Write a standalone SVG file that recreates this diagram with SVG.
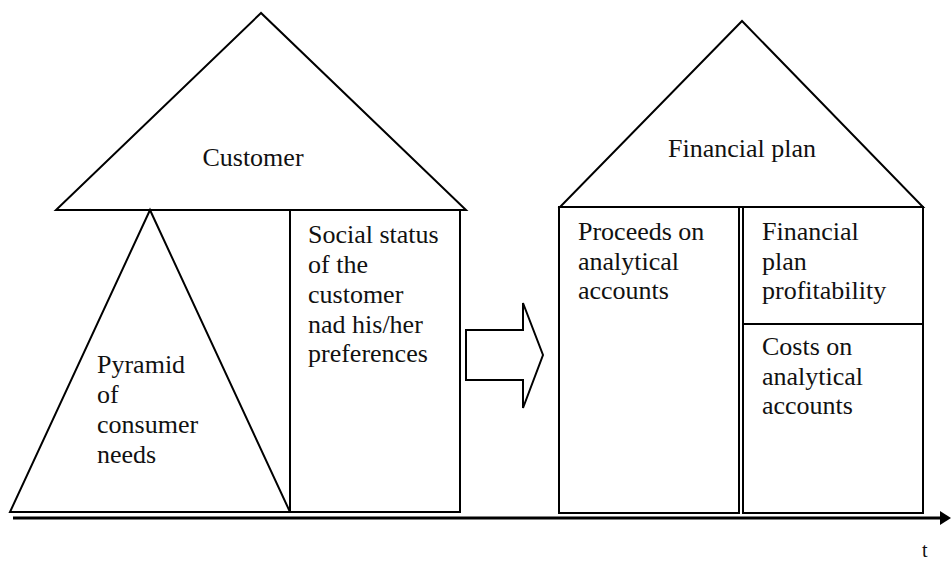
<svg xmlns="http://www.w3.org/2000/svg" width="951" height="561" viewBox="0 0 951 561">
<style>
.s{fill:none;stroke:#000;stroke-width:2;stroke-linejoin:miter}
.t{font-family:'Liberation Serif','Times New Roman',Times,serif;font-size:26px;fill:#111}
</style>
<rect width="951" height="561" fill="#fff"/>
<g id="customer-house">
<polygon class="s" points="261,13 56,210 466,210"/>
<text class="t" x="253" y="166" text-anchor="middle">Customer</text>
</g>
<g id="pyramid">
<polygon class="s" points="150,210 10,512 290,512"/>
<text class="t" x="97" y="373">Pyramid</text>
<text class="t" x="97" y="403">of</text>
<text class="t" x="97" y="433">consumer</text>
<text class="t" x="97" y="463">needs</text>
</g>
<g id="social-status">
<rect class="s" x="290" y="210" width="170" height="302"/>
<text class="t" x="308" y="243">Social status</text>
<text class="t" x="308" y="273">of the</text>
<text class="t" x="308" y="303">customer</text>
<text class="t" x="308" y="333">nad his/her</text>
<text class="t" x="308" y="362">preferences</text>
</g>
<g id="financial-house">
<polygon class="s" points="742,21 560,207 923,207"/>
<text class="t" x="742" y="157" text-anchor="middle">Financial plan</text>
</g>
<g id="proceeds">
<rect class="s" x="559" y="207" width="180" height="306"/>
<text class="t" x="578" y="240">Proceeds on</text>
<text class="t" x="578" y="270">analytical</text>
<text class="t" x="578" y="299">accounts</text>
</g>
<g id="profitability">
<rect class="s" x="743" y="207" width="180" height="117"/>
<text class="t" x="762" y="240">Financial</text>
<text class="t" x="762" y="270">plan</text>
<text class="t" x="762" y="299">profitability</text>
</g>
<g id="costs">
<rect class="s" x="743" y="324" width="180" height="189"/>
<text class="t" x="762" y="355">Costs on</text>
<text class="t" x="762" y="385">analytical</text>
<text class="t" x="762" y="414">accounts</text>
</g>
<g id="connectors">
<polygon class="s" points="466,330 523,330 523,303 543,355 523,408 523,380 466,380"/>
<line x1="13" y1="518" x2="942" y2="518" stroke="#000" stroke-width="3"/>
<polygon points="951,518 940,511 940,525" fill="#000"/>
</g>
<text class="t" x="922" y="557" style="font-size:20px">t</text>
</svg>
